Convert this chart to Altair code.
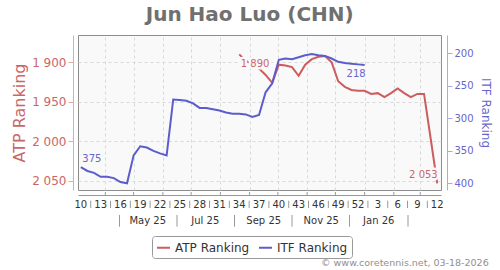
import altair as alt
import pandas as pd

# ---------------- data ----------------
title_text = "Jun Hao Luo (CHN)"
footer_text = "\u00a9 www.coretennis.net, 03-18-2026"

week_numbers = [10, 11, 12, 13, 14, 15, 16, 17, 18, 19, 20, 21, 22, 23, 24, 25,
                26, 27, 28, 29, 30, 31, 32, 33, 34, 35, 36, 37, 38, 39, 40, 41,
                42, 43, 44, 45, 46, 47, 48, 49, 50, 51, 52,
                1, 2, 3, 4, 5, 6, 7, 8, 9, 10, 11, 12]
first_week_date = "2025-03-06"

itf_values = [375, 381, 384, 390, 390, 392, 398, 400, 357, 343,
              345, 350, 354, 357, 271, 272, 273, 277, 284, 284,
              286, 288, 291, 293, 293, 294, 298, 295, 260, 246,
              210, 208, 209, 206, 203, 201, 203, 204, 208, 213,
              215, 216, 217, 218]

atp_first_week_index = 24  # week 34 of 2025
atp_values = [1890, 1898, 1903, 1908, 1916, 1926, 1903, 1904, 1906, 1917,
              1903, 1896, 1893, 1892, 1900, 1924, 1931, 1935, 1936, 1936,
              1940, 1939, 1944, 1939, 1933, 1939, 1944, 1940, 1940, 1996,
              2053]

atp_ticks = [1900, 1950, 2000, 2050]
itf_ticks = [200, 250, 300, 350, 400]

month_row_labels = ["May 25", "Jul 25", "Sep 25", "Nov 25", "Jan 26"]
month_row_label_dates = ["2025-05-16", "2025-07-16", "2025-09-16", "2025-11-16", "2026-01-16"]
month_row_sep_dates = ["2025-04-16", "2025-06-16", "2025-08-16", "2025-10-16", "2025-12-16", "2026-02-16"]

x_start, x_end = "2025-03-03", "2026-03-23"

RED = "#cd5c5c"
BLUE = "#5c5ccd"
RED_TXT = "#cc6666"
BLUE_TXT = "#6666cc"

# ---------------- derived tables ----------------
epoch = pd.Timestamp(x_start)


def to_day(d):
    return (pd.Timestamp(d) - epoch).days


dates = pd.date_range(first_week_date, periods=len(week_numbers), freq="7D")
days = [to_day(d) for d in dates]

itf_df = pd.DataFrame({"day": days[:len(itf_values)], "rank": itf_values,
                       "series": "ITF Ranking"})
atp_df = pd.DataFrame({"day": days[atp_first_week_index:atp_first_week_index + len(atp_values)],
                       "rank": atp_values, "series": "ATP Ranking"})


def fmt(v):
    return f"{v:,}".replace(",", " ")


def one_label(df, idx):
    r = df.iloc[idx]
    return pd.DataFrame({"day": [r["day"]], "rank": [r["rank"]], "label": [fmt(int(r["rank"]))]})


itf_first, itf_last = one_label(itf_df, 0), one_label(itf_df, -1)
atp_first, atp_last = one_label(atp_df, 0), one_label(atp_df, -1)

month_days = [to_day(d) for d in pd.date_range("2025-04-01", "2026-03-01", freq="MS")]

wk_idx = list(range(0, len(week_numbers), 3))
week_lab_df = pd.DataFrame({"day": [days[i] for i in wk_idx],
                            "label": [str(week_numbers[i]) for i in wk_idx]})
week_sep_df = pd.DataFrame({"day": [(days[a] + days[b]) / 2 for a, b in zip(wk_idx[:-1], wk_idx[1:])]})
month_lab_df = pd.DataFrame({"day": [to_day(d) for d in month_row_label_dates], "label": month_row_labels})
month_sep_df = pd.DataFrame({"day": [to_day(d) for d in month_row_sep_dates]})
month_tick_df = pd.DataFrame({"day": month_days})

# ---------------- encodings ----------------
X = alt.X("day:Q",
          scale=alt.Scale(domain=[0, to_day(x_end)], nice=False, zero=False),
          axis=alt.Axis(values=month_days, labels=False, ticks=False, grid=True,
                        gridColor="#d9d9d9", gridDash=[3, 3], domainColor="#999999",
                        offset=5, title=None))

Y_ATP = alt.Y("rank:Q",
              scale=alt.Scale(domain=[1865.5, 2061.4], reverse=True, nice=False, zero=False),
              axis=alt.Axis(orient="left", values=atp_ticks, offset=5, grid=True,
                            gridColor="#d9d9d9", gridDash=[3, 3],
                            domainColor="#e3a9a9", tickColor="#e3a9a9", tickSize=5,
                            labelColor=RED_TXT, labelFontSize=12, labelPadding=2,
                            labelExpr="replace(format(datum.value, ','), ',', ' ')",
                            title="ATP Ranking", titleColor=RED_TXT, titleFontSize=16,
                            titleFontWeight="normal", titlePadding=4))

Y_ITF = alt.Y("rank:Q",
              scale=alt.Scale(domain=[171.8, 410.3], reverse=True, nice=False, zero=False),
              axis=alt.Axis(orient="right", values=itf_ticks, offset=6, grid=False,
                            domainColor="#a9a9e3", tickColor="#a9a9e3", tickSize=5,
                            labelColor=BLUE_TXT, labelFontSize=10, labelPadding=2,
                            title="ITF Ranking", titleColor=BLUE_TXT, titleFontSize=12,
                            titleFontWeight="normal", titlePadding=5))

COLOR = alt.Color("series:N",
                  scale=alt.Scale(domain=["ATP Ranking", "ITF Ranking"], range=[RED, BLUE]),
                  legend=alt.Legend(orient="none", legendX=74, legendY=201, direction="horizontal",
                                    symbolType="stroke", symbolSize=169, symbolStrokeWidth=2,
                                    labelFontSize=12, labelColor="#333333", labelFont="DejaVu Sans",
                                    strokeColor="#999999", fillColor="#ffffff", padding=4,
                                    cornerRadius=3, labelOffset=4, title=None))

BG = "#f9f9f9"


def labels(df, y_enc, color, align, dx, dy):
    outline = alt.Chart(df).mark_text(align=align, baseline="middle", dx=dx, dy=dy, fontSize=10,
                                      fill=BG, stroke=BG, strokeWidth=5).encode(
        x=X, y=y_enc, text="label:N")
    txt = alt.Chart(df).mark_text(align=align, baseline="middle", dx=dx, dy=dy, fontSize=10,
                                  color=color).encode(x=X, y=y_enc, text="label:N")
    return [outline, txt]


atp_line = alt.Chart(atp_df).mark_line(strokeWidth=2).encode(x=X, y=Y_ATP, color=COLOR)
itf_line = alt.Chart(itf_df).mark_line(strokeWidth=2).encode(x=X, y=Y_ITF, color=COLOR)

atp_layer = alt.layer(atp_line,
                      *labels(atp_first, Y_ATP, RED_TXT, "left", 1.5, 9.6),
                      *labels(atp_last, Y_ATP, RED_TXT, "right", 0.5, -8))
itf_layer = alt.layer(itf_line,
                      *labels(itf_first, Y_ITF, BLUE_TXT, "left", 1.5, -8),
                      *labels(itf_last, Y_ITF, BLUE_TXT, "right", 1, 8.6))

# x-axis decorations (two label rows, separators, small ticks)
month_ticks = alt.Chart(month_tick_df).mark_rule(color="#999999").encode(
    x=X, y=alt.value(157), y2=alt.value(160))
week_labels = alt.Chart(week_lab_df).mark_text(fontSize=10, color="#333333", baseline="middle").encode(
    x=X, y=alt.value(170), text="label:N")
week_seps = alt.Chart(week_sep_df).mark_rule(color="#999999").encode(
    x=X, y=alt.value(165.7), y2=alt.value(173))
month_labels = alt.Chart(month_lab_df).mark_text(fontSize=10, color="#333333", baseline="middle").encode(
    x=X, y=alt.value(185.7), text="label:N")
month_seps = alt.Chart(month_sep_df).mark_rule(color="#999999").encode(
    x=X, y=alt.value(180), y2=alt.value(191.7))

title = alt.Chart(pd.DataFrame({"t": [title_text]})).mark_text(
    fontSize=20, fontWeight="bold", color="#707070", align="center", baseline="alphabetic").encode(
    x=alt.value(171.7), y=alt.value(-14), text="t:N")
footer = alt.Chart(pd.DataFrame({"t": [footer_text]})).mark_text(
    fontSize=9.5, color="#909090", align="right", baseline="middle").encode(
    x=alt.value(410.7), y=alt.value(228), text="t:N")

chart = alt.layer(
    atp_layer, itf_layer, month_ticks, week_labels, week_seps, month_labels, month_seps, title, footer
).resolve_scale(y="independent").properties(
    width=363, height=155,
    autosize=alt.AutoSizeParams(type="none"),
    padding={"left": 78, "top": 35, "right": 59, "bottom": 80},
    background="#ffffff",
).configure(font="DejaVu Sans").configure_view(
    fill=BG, stroke="#8c8c8c", strokeWidth=1
).configure_legend(columnPadding=5)

chart.save("out.html", embed_options={"renderer": "svg", "actions": False})
